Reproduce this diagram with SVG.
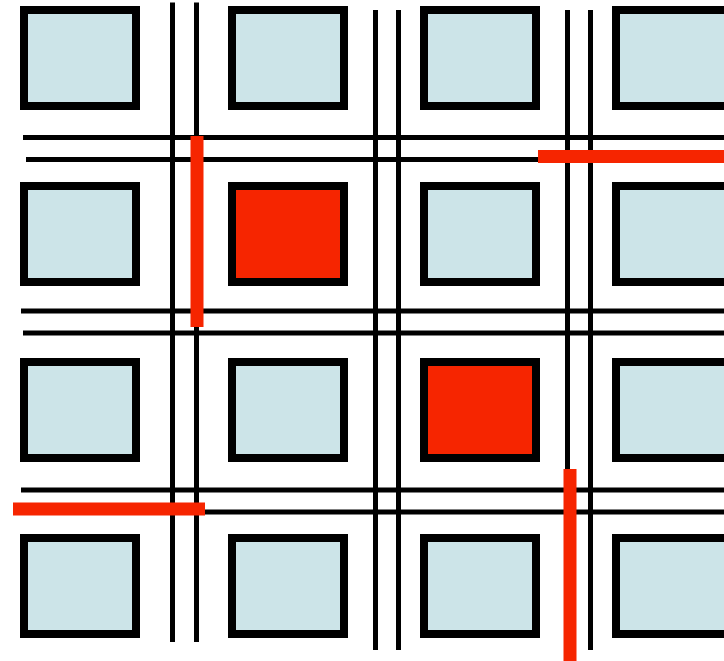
<svg xmlns="http://www.w3.org/2000/svg" width="724" height="661" viewBox="0 0 724 661">
<style>
.b{fill:#CCE4E8;stroke:#000;stroke-width:8}
.r{fill:#F62500;stroke:#000;stroke-width:8}
.w{stroke:#000;stroke-width:5;fill:none}
.rw{stroke:#F62500;stroke-width:13;fill:none}
</style>
<rect width="724" height="661" fill="#fff"/>
<g id="lines">
<line class="w" x1="172.5" y1="2.5" x2="172.5" y2="642"/>
<line class="w" x1="196.5" y1="2.5" x2="196.5" y2="642"/>
<line class="w" x1="375.5" y1="10" x2="375.5" y2="650"/>
<line class="w" x1="398.5" y1="10" x2="398.5" y2="650"/>
<line class="w" x1="567.5" y1="10" x2="567.5" y2="650"/>
<line class="w" x1="590.5" y1="10" x2="590.5" y2="650"/>
<line class="w" x1="23" y1="137.5" x2="724" y2="137.5"/>
<line class="w" x1="26" y1="159.5" x2="724" y2="159.5"/>
<line class="w" x1="21" y1="311" x2="724" y2="311"/>
<line class="w" x1="23" y1="333" x2="724" y2="333"/>
<line class="w" x1="21" y1="490" x2="724" y2="490"/>
<line class="w" x1="23" y1="512" x2="724" y2="512"/>
</g>
<g id="n11"><rect class="b" x="24" y="10" width="112" height="96"/></g>
<g id="n12"><rect class="b" x="232" y="10" width="112" height="96"/></g>
<g id="n13"><rect class="b" x="424" y="10" width="112" height="96"/></g>
<g id="n14"><rect class="b" x="616" y="10" width="112" height="96"/></g>
<g id="n21"><rect class="b" x="24" y="186" width="112" height="96"/></g>
<g id="n22"><rect class="r" x="232" y="186" width="112" height="96"/></g>
<g id="n23"><rect class="b" x="424" y="186" width="112" height="96"/></g>
<g id="n24"><rect class="b" x="616" y="186" width="112" height="96"/></g>
<g id="n31"><rect class="b" x="24" y="362" width="112" height="96"/></g>
<g id="n32"><rect class="b" x="232" y="362" width="112" height="96"/></g>
<g id="n33"><rect class="r" x="424" y="362" width="112" height="96"/></g>
<g id="n34"><rect class="b" x="616" y="362" width="112" height="96"/></g>
<g id="n41"><rect class="b" x="24" y="538" width="112" height="96"/></g>
<g id="n42"><rect class="b" x="232" y="538" width="112" height="96"/></g>
<g id="n43"><rect class="b" x="424" y="538" width="112" height="96"/></g>
<g id="n44"><rect class="b" x="616" y="538" width="112" height="96"/></g>
<g id="cuts">
<line class="rw" x1="197" y1="136" x2="197" y2="327"/>
<line class="rw" x1="538" y1="156.5" x2="724" y2="156.5"/>
<line class="rw" x1="13" y1="509" x2="205" y2="509"/>
<line class="rw" x1="570" y1="469" x2="570" y2="661"/>
</g>
</svg>
